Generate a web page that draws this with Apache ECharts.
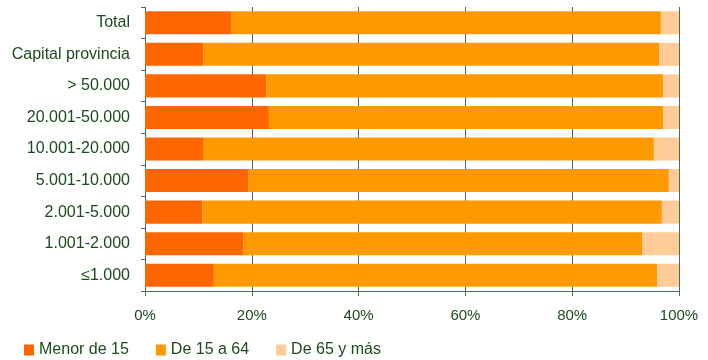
<!DOCTYPE html>
<html>
<head>
  <meta charset="utf-8" />
  <title>Estructura por edades</title>
  <script src="https://cdn.jsdelivr.net/npm/echarts@6/dist/echarts.min.js"></script>
  <style>
    html, body { margin: 0; padding: 0; background: #fff; }
    #chart-main { width: 708px; height: 360px; }
  </style>
</head>
<body>
<div id="chart-main"></div>
<script type="text/javascript">
// categorias (de arriba a abajo)
var categories = ['Total', 'Capital provincia', '> 50.000', '20.001-50.000', '10.001-20.000',
                  '5.001-10.000', '2.001-5.000', '1.001-2.000', '≤1.000'];
var seriesNames = ['Menor de 15', 'De 15 a 64', 'De 65 y más'];
var menor15  = [16.1, 10.9, 22.7, 23.2, 11.0, 19.3, 10.7, 18.4, 12.9];
var de15a64  = [80.5, 85.4, 74.3, 73.8, 84.3, 78.8, 86.1, 74.7, 83.0];
var de65     = [3.4, 3.7, 3.0, 3.0, 4.7, 1.9, 3.2, 6.9, 4.1];
var xTicks   = [0, 20, 40, 60, 80, 100];

var colors = ['#ff6600', '#ff9900', '#ffcc99'];
var textColor = '#1d4a1d';
var lineColor = '#4d6b4d';
var font = 'Liberation Sans, Arial, sans-serif';

var myChart = echarts.init(document.getElementById('chart-main'));

function bar(name, data, color) {
  return {
    name: name, type: 'bar', stack: 'total', data: data,
    barCategoryGap: '27%',
    itemStyle: { color: color },
    emphasis: { disabled: true }
  };
}

var option = {
  backgroundColor: '#fff',
  animation: false,
  color: colors,
  grid: { left: 145, right: 29, top: 7, bottom: 69 },
  legend: {
    left: 24, top: 342, padding: 0,
    itemWidth: 10, itemHeight: 11, itemGap: 27,
    icon: 'rect',
    textStyle: { color: textColor, fontSize: 16, fontFamily: font },
    data: seriesNames
  },
  xAxis: {
    type: 'value', min: 0, max: 100, interval: 20,
    axisLine: { show: true, lineStyle: { color: lineColor, width: 1 } },
    axisTick: { show: true, length: 5, lineStyle: { color: lineColor } },
    splitLine: { show: true, lineStyle: { color: lineColor, width: 1 } },
    axisLabel: {
      color: textColor, fontSize: 15, fontFamily: font, margin: 17,
      formatter: function (v) { return xTicks.indexOf(v) >= 0 ? v + '%' : ''; }
    }
  },
  yAxis: {
    type: 'category', inverse: true, data: categories,
    axisLine: { show: true, lineStyle: { color: lineColor, width: 1 } },
    axisTick: { show: true, length: 4, lineStyle: { color: lineColor } },
    axisLabel: { color: textColor, fontSize: 16, fontFamily: font, margin: 15 }
  },
  series: [
    bar(seriesNames[0], menor15, colors[0]),
    bar(seriesNames[1], de15a64, colors[1]),
    bar(seriesNames[2], de65, colors[2])
  ]
};

myChart.setOption(option);
</script>
</body>
</html>
